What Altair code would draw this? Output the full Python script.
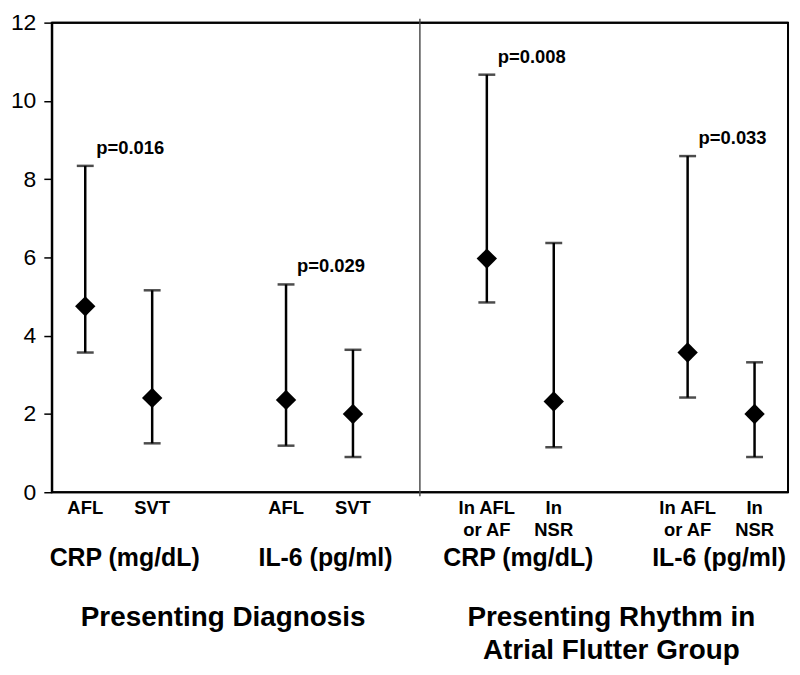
import altair as alt
import pandas as pd

FONT = "Liberation Sans, Arial, Helvetica, sans-serif"

# ---- data ----
slot_order = ["CRP_AFL", "CRP_SVT", "gap1", "IL6_AFL", "IL6_SVT", "divider",
              "RCRP_AF", "RCRP_NSR", "gap2", "RIL6_AF", "RIL6_NSR"]
keys = ["CRP_AFL", "CRP_SVT", "IL6_AFL", "IL6_SVT",
        "RCRP_AF", "RCRP_NSR", "RIL6_AF", "RIL6_NSR"]
line1 = ["AFL", "SVT", "AFL", "SVT", "In AFL", "In", "In AFL", "In"]
line2 = ["", "", "", "", "or AF", "NSR", "or AF", "NSR"]
median = [4.75, 2.41, 2.36, 2.00, 5.97, 2.32, 3.57, 2.00]
lower = [3.57, 1.25, 1.19, 0.90, 4.85, 1.15, 2.42, 0.90]
upper = [8.34, 5.16, 5.31, 3.64, 10.67, 6.37, 8.59, 3.32]

pair_first = ["CRP_AFL", "IL6_AFL", "RCRP_AF", "RIL6_AF"]
pair_label = ["CRP (mg/dL)", "IL-6 (pg/ml)", "CRP (mg/dL)", "IL-6 (pg/ml)"]
pair_side = ["left", "left", "right", "right"]
p_text = ["p=0.016", "p=0.029", "p=0.008", "p=0.033"]
p_upper = [8.34, 5.31, 10.67, 8.59]

left_title = ["Presenting Diagnosis"]
right_title = ["Presenting Rhythm in", "Atrial Flutter Group"]

y_ticks = [0, 2, 4, 6, 8, 10, 12]
y_limits = [0, 12]

df = pd.DataFrame({"slot": keys, "l1": line1, "l2": line2,
                   "median": median, "lower": lower, "upper": upper})
pairs = pd.DataFrame({"slot": pair_first, "label": pair_label, "side": pair_side,
                      "p": p_text, "upper": p_upper})
pairs_l = pairs[pairs["side"] == "left"]
pairs_r = pairs[pairs["side"] == "right"]
divider = pd.DataFrame({"slot": ["divider"]})
last_slot = pd.DataFrame({"slot": [slot_order[-1]]})
hedges = pd.DataFrame({"v": y_limits})
tl = pd.DataFrame({"slot": ["gap1"], "t": left_title})
tr1 = pd.DataFrame({"slot": ["gap2"], "t": [right_title[0]]})
tr2 = pd.DataFrame({"slot": ["gap2"], "t": [right_title[1]]})

W, H = 740, 472
xscale = alt.Scale(domain=slot_order, paddingInner=0, paddingOuter=0)
yscale = alt.Scale(domain=y_limits, nice=False, zero=False)


def X(**kw):
    return alt.X("slot:N", scale=xscale, axis=None, **kw)


yaxis = alt.Axis(values=y_ticks, title=None, grid=False, domainColor="black",
                 domainWidth=2, tickColor="black", tickWidth=1.5, tickSize=8,
                 labelFont=FONT, labelFontSize=23, labelColor="black",
                 labelPadding=8, labelFontWeight="normal")

# plot frame: full-width rules at y=0 and y=12, full-height rule at the right edge
edge_h = alt.Chart(hedges).mark_rule(color="black", strokeWidth=2).encode(
    y=alt.Y("v:Q", scale=yscale, axis=yaxis))
edge_right = alt.Chart(last_slot).mark_rule(color="black", strokeWidth=2).encode(
    x=X(bandPosition=1))

div = alt.Chart(divider).mark_rule(color="#444444", strokeWidth=1.4).encode(
    x=X(), y=alt.value(-4), y2=alt.value(H + 4))

bars = alt.Chart(df).mark_rule(color="black", strokeWidth=2.5).encode(
    x=X(), y=alt.Y("lower:Q", scale=yscale, axis=yaxis), y2="upper:Q")

cap_lo = alt.Chart(df).mark_tick(color="black", size=17, thickness=2.5).encode(
    x=X(), y=alt.Y("lower:Q", scale=yscale, axis=yaxis))
cap_hi = alt.Chart(df).mark_tick(color="black", size=17, thickness=2.5).encode(
    x=X(), y=alt.Y("upper:Q", scale=yscale, axis=yaxis))

pts = alt.Chart(df).mark_point(shape="diamond", filled=True, color="black",
                               size=420, opacity=1).encode(
    x=X(), y=alt.Y("median:Q", scale=yscale, axis=yaxis))

ptext = alt.Chart(pairs).mark_text(font=FONT, fontSize=18.5, fontWeight="bold",
                                   align="left", baseline="alphabetic",
                                   dx=11, dy=-12, color="black").encode(
    x=X(), y=alt.Y("upper:Q", scale=yscale, axis=yaxis), text="p:N")

txt = dict(font=FONT, fontWeight="bold", baseline="middle", color="black")

lab1 = alt.Chart(df).mark_text(fontSize=18.5, **txt).encode(
    x=X(), y=alt.value(488), text="l1:N")
lab2 = alt.Chart(df).mark_text(fontSize=18.5, **txt).encode(
    x=X(), y=alt.value(510), text="l2:N")

plab_l = alt.Chart(pairs_l).mark_text(fontSize=25, dx=6, **txt).encode(
    x=X(bandPosition=1), y=alt.value(538), text="label:N")
plab_r = alt.Chart(pairs_r).mark_text(fontSize=25, dx=-2, **txt).encode(
    x=X(bandPosition=1), y=alt.value(538), text="label:N")

tleft = alt.Chart(tl).mark_text(fontSize=28, **txt).encode(
    x=X(bandPosition=0.56), y=alt.value(598), text="t:N")
tright1 = alt.Chart(tr1).mark_text(fontSize=28, **txt).encode(
    x=X(bandPosition=0.36), y=alt.value(598), text="t:N")
tright2 = alt.Chart(tr2).mark_text(fontSize=28, **txt).encode(
    x=X(bandPosition=0.36), y=alt.value(632), text="t:N")

chart = alt.layer(edge_h, edge_right, div, bars, cap_lo, cap_hi,
                  pts, ptext, lab1, lab2, plab_l, plab_r,
                  tleft, tright1, tright2).properties(
    width=W, height=H, autosize="none", background="white",
    padding={"left": 44, "top": 13, "right": 4, "bottom": 185},
).configure_view(stroke="black", strokeWidth=2)

chart.save("out.html", embed_options={"renderer": "svg", "actions": False})
